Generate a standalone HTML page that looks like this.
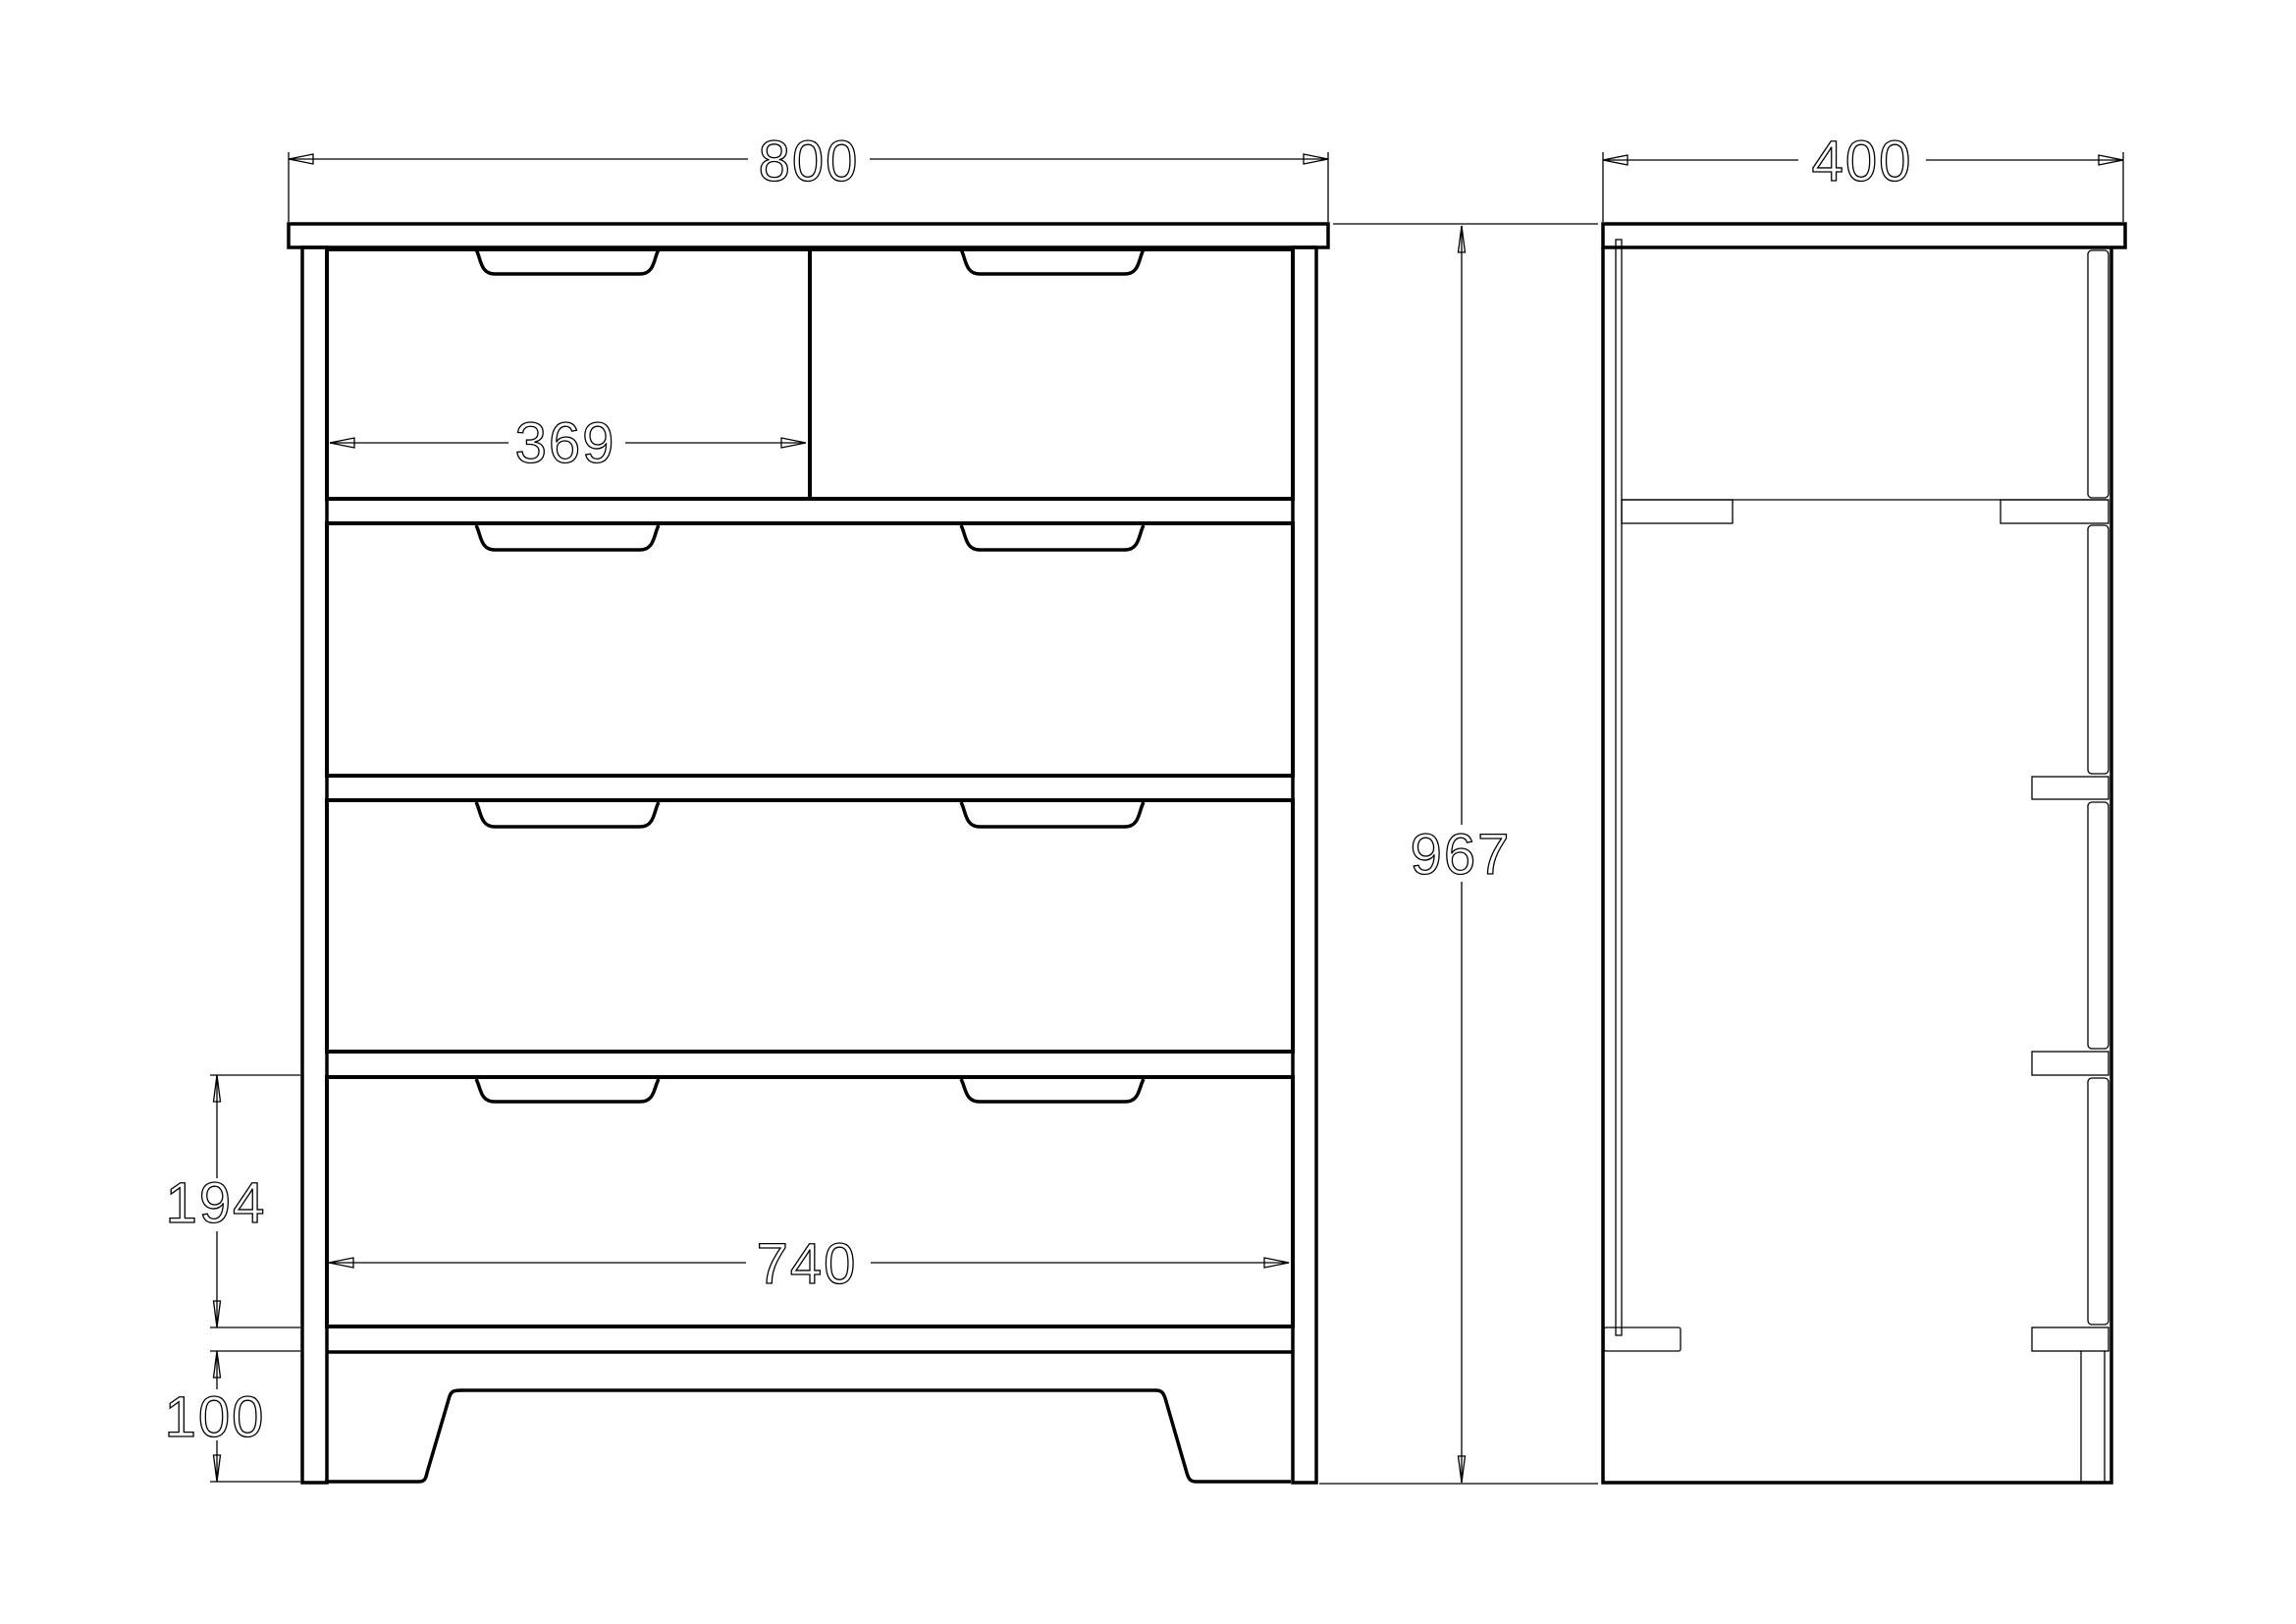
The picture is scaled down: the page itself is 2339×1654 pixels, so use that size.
<!DOCTYPE html>
<html><head><meta charset="utf-8"><style>
html,body{margin:0;padding:0;background:#fff;}
svg{display:block;}
text{font-family:"Liberation Sans",sans-serif;font-size:58px;fill:none;stroke:#000;stroke-width:1.3;text-anchor:middle;letter-spacing:2px;}
</style></head><body>
<svg width="2339" height="1654" viewBox="0 0 2339 1654" xmlns="http://www.w3.org/2000/svg">
<g fill="none" stroke="#000">
<!-- ===== FRONT VIEW ===== -->
<g stroke-width="1.3">
 <!-- 800 dim -->
 <line x1="294" y1="155" x2="294" y2="226"/><line x1="1353" y1="155" x2="1353" y2="226"/>
 <line x1="294" y1="162" x2="762" y2="162"/><line x1="886" y1="162" x2="1353" y2="162"/>
 <path d="M294 162 L319 157 L319 167 Z M1353 162 L1328 157 L1328 167 Z"/>
 <!-- 369 dim -->
 <line x1="336" y1="451" x2="518" y2="451"/><line x1="637" y1="451" x2="821" y2="451"/>
 <path d="M336 451 L361 446 L361 456 Z M821 451 L796 446 L796 456 Z"/>
 <!-- 740 dim -->
 <line x1="335" y1="1286" x2="760" y2="1286"/><line x1="887" y1="1286" x2="1313" y2="1286"/>
 <path d="M335 1286 L360 1281 L360 1291 Z M1313 1286 L1288 1281 L1288 1291 Z"/>
 <!-- 194 dim -->
 <line x1="214" y1="1095" x2="306" y2="1095"/><line x1="214" y1="1352" x2="306" y2="1352"/>
 <line x1="221" y1="1095" x2="221" y2="1200"/><line x1="221" y1="1254" x2="221" y2="1352"/>
 <path d="M221 1095 L217.5 1122 L224.5 1122 Z M221 1352 L217.5 1325 L224.5 1325 Z"/>
 <!-- 100 dim -->
 <line x1="214" y1="1376" x2="306" y2="1376"/><line x1="214" y1="1509" x2="306" y2="1509"/>
 <line x1="221" y1="1376" x2="221" y2="1415"/><line x1="221" y1="1467" x2="221" y2="1509"/>
 <path d="M221 1376 L217.5 1403 L224.5 1403 Z M221 1509 L217.5 1482 L224.5 1482 Z"/>
 <!-- 967 dim -->
 <line x1="1358" y1="228" x2="1628" y2="228"/><line x1="1344" y1="1511" x2="1628" y2="1511"/>
 <line x1="1489" y1="230" x2="1489" y2="840"/><line x1="1489" y1="898" x2="1489" y2="1510"/>
 <path d="M1489 230 L1485.5 257 L1492.5 257 Z M1489 1510 L1485.5 1483 L1492.5 1483 Z"/>
</g>
<g stroke-width="3.5">
 <rect x="294" y="228" width="1059" height="24"/>
 <rect x="308" y="252" width="25" height="1258"/>
 <rect x="1317" y="252" width="24" height="1258"/>
 <!-- drawers -->
 <rect x="333" y="254" width="492" height="254" stroke-width="4"/>
 <rect x="825" y="254" width="492" height="254" stroke-width="4"/>
 <rect x="333" y="533" width="984" height="257" stroke-width="4"/>
 <rect x="333" y="815" width="984" height="256" stroke-width="4"/>
 <rect x="333" y="1097" width="984" height="254" stroke-width="4"/>
 <line x1="333" y1="1377" x2="1317" y2="1377"/>
 <!-- plinth -->
 <path d="M331 1509 L427 1509 C433 1509 434 1505 435 1500 L458 1422 C460 1417 462 1416 470 1416 L1177 1416 C1183 1416 1185 1418 1187 1424 L1209 1500 C1211 1507 1213 1509 1219 1509 L1315 1509"/>
</g>
<!-- handles -->
<g stroke-width="3.5" id="h">
 <path d="M485 254 C490 263 489 279 504 279 L652 279 C667 279 666 263 671 254"/>
 <path d="M979 254 C984 263 983 279 998 279 L1146 279 C1161 279 1160 263 1165 254"/>
 <path d="M485 535 C490 544 489 560 504 560 L652 560 C667 560 666 544 671 535"/>
 <path d="M979 535 C984 544 983 560 998 560 L1146 560 C1161 560 1160 544 1165 535"/>
 <path d="M485 817 C490 826 489 842 504 842 L652 842 C667 842 666 826 671 817"/>
 <path d="M979 817 C984 826 983 842 998 842 L1146 842 C1161 842 1160 826 1165 817"/>
 <path d="M485 1099 C490 1108 489 1122 504 1122 L652 1122 C667 1122 666 1108 671 1099"/>
 <path d="M979 1099 C984 1108 983 1122 998 1122 L1146 1122 C1161 1122 1160 1108 1165 1099"/>
</g>
<!-- ===== SIDE VIEW ===== -->
<g stroke-width="1.3">
 <line x1="1633" y1="155" x2="1633" y2="226"/><line x1="2163" y1="155" x2="2163" y2="226"/>
 <line x1="1633" y1="163" x2="1832" y2="163"/><line x1="1962" y1="163" x2="2163" y2="163"/>
 <path d="M1633 163 L1658 158 L1658 168 Z M2163 163 L2138 158 L2138 168 Z"/>
 <rect x="1646" y="244" width="6" height="1116"/>
 <rect x="2127" y="255" width="21" height="252" rx="4"/>
 <rect x="2127" y="535" width="21" height="253" rx="4"/>
 <rect x="2127" y="817" width="21" height="251" rx="4"/>
 <rect x="2127" y="1098" width="21" height="251" rx="4"/>
 <line x1="1652" y1="509" x2="2148" y2="509"/>
 <rect x="1652" y="509" width="113" height="24"/>
 <rect x="2038" y="509" width="110" height="24"/>
 <rect x="2070" y="791" width="78" height="23"/>
 <rect x="2070" y="1071" width="78" height="24"/>
 <rect x="2070" y="1352" width="78" height="24"/>
 <rect x="1634" y="1352" width="78" height="24" rx="2"/>
 <line x1="2120" y1="1376" x2="2120" y2="1510"/>
 <line x1="2144" y1="1376" x2="2144" y2="1510"/>
</g>
<g stroke-width="3.5">
 <rect x="1633" y="228" width="532" height="24"/>
 <path d="M1633 252 L1633 1510 L2151 1510 L2151 252"/>
</g>
</g>
<text x="824" y="184">800</text>
<text x="576" y="471">369</text>
<text x="1897" y="184">400</text>
<text x="822" y="1307">740</text>
<text x="1488" y="890">967</text>
<text x="220" y="1245">194</text>
<text x="219" y="1463">100</text>
</svg>
</body></html>
